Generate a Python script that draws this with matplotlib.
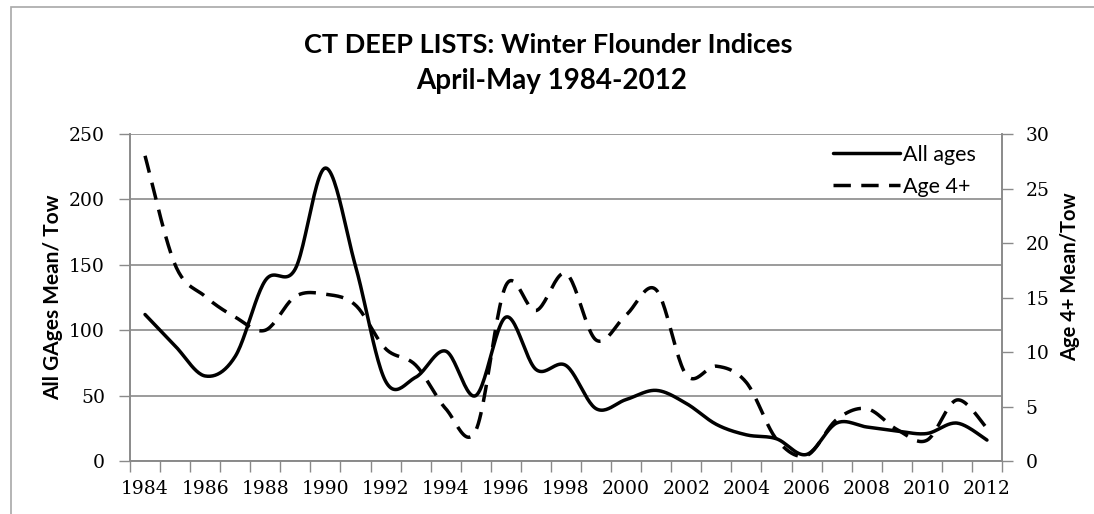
import numpy as np
import matplotlib
matplotlib.use("Agg")
import matplotlib.pyplot as plt
from matplotlib.patches import Rectangle

# data
years = list(range(1984, 2013))
all_ages = [112, 88, 65, 80, 138, 147, 224, 149, 61, 64, 84, 50, 110, 70, 73,
            40, 47, 54, 44, 28, 20, 17, 5, 29, 26, 23, 21, 29, 16]
age4 = [28.0, 18.0, 15.1, 13.2, 12.0, 15.1, 15.3, 14.3, 10.3, 8.8, 4.8, 2.8,
        16.1, 13.8, 17.2, 11.1, 13.4, 15.7, 7.9, 8.7, 7.2, 2.0, 0.5, 3.8, 4.8,
        2.9, 1.9, 5.6, 3.0]
year_labels = [str(y) for y in years[::2]]


def smooth(xs, ys, n=24):
    # Excel style smoothed line (Catmull-Rom through the points)
    xs = np.asarray(xs, float)
    ys = np.asarray(ys, float)
    px = np.concatenate([[xs[0]], xs, [xs[-1]]])
    py = np.concatenate([[ys[0]], ys, [ys[-1]]])
    ox, oy = [], []
    for i in range(1, len(px) - 2):
        t = np.linspace(0, 1, n, endpoint=False)
        for p, out in ((px, ox), (py, oy)):
            m0 = (p[i + 1] - p[i - 1]) / 2
            m1 = (p[i + 2] - p[i]) / 2
            h00 = 2 * t**3 - 3 * t**2 + 1
            h10 = t**3 - 2 * t**2 + t
            h01 = -2 * t**3 + 3 * t**2
            h11 = t**3 - t**2
            out.extend(h00 * p[i] + h10 * m0 + h01 * p[i + 1] + h11 * m1)
    ox.append(xs[-1])
    oy.append(ys[-1])
    return np.array(ox), np.array(oy)


grey = '#8a8a8a'
sans = 'Lato'

# tick numbers in a serif face, everything else named explicitly
plt.rcParams['font.family'] = 'DejaVu Serif'
plt.rcParams['xtick.labelsize'] = 13.5
plt.rcParams['ytick.labelsize'] = 13.5

fig = plt.figure(figsize=(10.94, 5.14), dpi=100)
ax = fig.add_axes([130 / 1094, 53 / 514, 872 / 1094, 327 / 514])
ax2 = ax.twinx()

pos = np.arange(len(years)) + 0.5
sx, sy = smooth(pos, all_ages)
dx, dy = smooth(pos, age4)

l1, = ax.plot(sx, sy, color='black', lw=2.5, solid_capstyle='round', label='All ages', zorder=3)
l2, = ax2.plot(dx, dy, color='black', lw=2.5, dashes=(5, 3), label='Age 4+', zorder=3)

ax.set_xlim(0, len(years))
ax.set_ylim(0, 250)
ax2.set_ylim(0, 30)
ax.set_yticks(range(0, 251, 50))
ax2.set_yticks(range(0, 31, 5))

# ticks sit between categories, year labels under every other category
ax.set_xticks(np.arange(len(years) + 1))
ax.set_xticklabels([])
ax.set_xticks(pos[::2], labels=year_labels, minor=True)
ax.tick_params(axis='x', which='major', direction='out', length=8, width=1, color=grey)
ax.tick_params(axis='x', which='minor', length=0, pad=13.5)
ax.tick_params(axis='y', direction='out', length=8, width=1, color=grey, pad=10)
ax2.tick_params(axis='y', direction='out', length=8, width=1, color=grey, pad=9)

ax.grid(axis='y', color=grey, lw=1.2)
ax.set_axisbelow(True)
for a in (ax, ax2):
    a.spines['top'].set_visible(False)
    for s in ('left', 'right', 'bottom'):
        a.spines[s].set_color(grey)
        a.spines[s].set_linewidth(1.2)

fig.text(548 / 1094, 1 - 45 / 514, 'CT DEEP LISTS: Winter Flounder Indices',
         ha='center', va='center', fontsize=19.5, fontweight='bold', family=sans)
fig.text(552 / 1094, 1 - 81 / 514, 'April-May 1984-2012',
         ha='center', va='center', fontsize=20, fontweight='bold', family=sans)

fig.text(53 / 1094, 1 - 297 / 514, 'All GAges Mean/ Tow', rotation=90,
         ha='center', va='center', fontsize=15, fontweight='bold', family=sans)
fig.text(1070 / 1094, 1 - 277 / 514, 'Age 4+ Mean/Tow', rotation=90,
         ha='center', va='center', fontsize=14.5, fontweight='bold', family=sans)

leg = fig.legend(handles=[l1, l2], loc='upper left',
                 bbox_to_anchor=(833 / 1094, 1 - 145 / 514),
                 frameon=False, borderpad=0, borderaxespad=0,
                 handlelength=3.1, handletextpad=0.15, labelspacing=0.55,
                 prop={'family': sans, 'size': 15.5})

# chart border (only top and left edges fall inside the image)
fig.add_artist(Rectangle((11 / 1094, -0.1), 2, 1.1 - 7 / 514,
                         transform=fig.transFigure, fill=False,
                         edgecolor='#a8a8a8', lw=1.2))

fig.savefig('out.png', dpi=100)
